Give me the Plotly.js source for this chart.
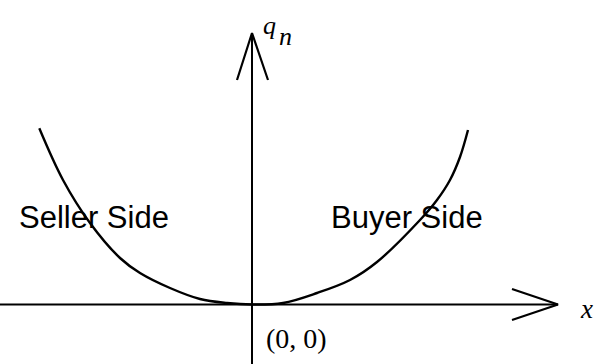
<!DOCTYPE html>
<html>
<head>
<meta charset="utf-8">
<script src="https://cdn.plot.ly/plotly-3.0.1.min.js"></script>
<style>html,body{margin:0;padding:0;background:#fff;}#chart{width:594px;height:364px;}</style>
</head>
<body>
<div id="chart"></div>
<script>
// Curve (U-shaped); origin (0,0) at the vertex
const curveX = [-212.7, -189, -162, -132, -112, -82, -52, -25, 0, 31, 65, 98, 125, 168, 185, 198, 208, 216];
const curveY = [176.2, 124.5, 81.5, 46.5, 31.5, 16.5, 5.5, 1.5, 0, 1.5, 11.5, 24.5, 42.5, 84.5, 104.5, 124.5, 147.5, 174.5];

// Axis lines
const vAxisX = [0, 0];
const vAxisY = [-60, 271.5];
const hAxisX = [-252, 306];
const hAxisY = [0, 0];

// Open arrowheads
const vArrowX = [-15, 0, 16];
const vArrowY = [224.5, 271.5, 224.5];
const hArrowX = [260, 306, 260];
const hArrowY = [15.5, 0, -15.5];

// Labels
const sideLabels = ["Seller Side", "Buyer Side"];
const sideLabelX = [-158, 155];
const sideLabelY = [87, 87];
const originLabel = "(0, 0)";
const yAxisLabel = ["q", "n"];
const xAxisLabel = "x";

const black = "#000";
const traces = [
  {x: curveX, y: curveY, mode: "lines", line: {color: black, width: 2.4, shape: "spline", smoothing: 1}},
  {x: vAxisX, y: vAxisY, mode: "lines", line: {color: black, width: 2}},
  {x: hAxisX, y: hAxisY, mode: "lines", line: {color: black, width: 2}},
  {x: vArrowX, y: vArrowY, mode: "lines", line: {color: black, width: 2.2}},
  {x: hArrowX, y: hArrowY, mode: "lines", line: {color: black, width: 2.2}}
];

const sans = {family: "Liberation Sans, Arial, sans-serif", size: 31, color: black};
const serif = {family: "Liberation Serif, Times New Roman, serif", size: 28, color: black};
const annotations = [
  {x: sideLabelX[0], y: sideLabelY[0], text: sideLabels[0], font: sans},
  {x: sideLabelX[1], y: sideLabelY[1], text: sideLabels[1], font: sans},
  {x: 44.5, y: -34, text: originLabel, font: serif},
  {x: 17, y: 279, text: "<i>" + yAxisLabel[0] + "</i>", font: {family: serif.family, size: 26, color: black}},
  {x: 33.5, y: 268, text: "<i>" + yAxisLabel[1] + "</i>", font: {family: serif.family, size: 26, color: black}},
  {x: 334, y: -4, text: "<i>" + xAxisLabel + "</i>", font: {family: serif.family, size: 27, color: black}}
].map(a => Object.assign({xref: "x", yref: "y", showarrow: false, xanchor: "center", yanchor: "middle"}, a));

const axisOff = {visible: false, showgrid: false, zeroline: false, fixedrange: true};
const layout = {
  width: 594, height: 364,
  margin: {l: 0, r: 0, t: 0, b: 0, pad: 0},
  paper_bgcolor: "#fff", plot_bgcolor: "#fff",
  showlegend: false, hovermode: false,
  xaxis: Object.assign({range: [-252, 342]}, axisOff),
  yaxis: Object.assign({range: [-59.5, 304.5]}, axisOff),
  annotations: annotations
};
Plotly.newPlot("chart", traces.map(t => Object.assign({type: "scatter", hoverinfo: "skip", cliponaxis: false}, t)), layout, {staticPlot: true, displayModeBar: false});
</script>
</body>
</html>
